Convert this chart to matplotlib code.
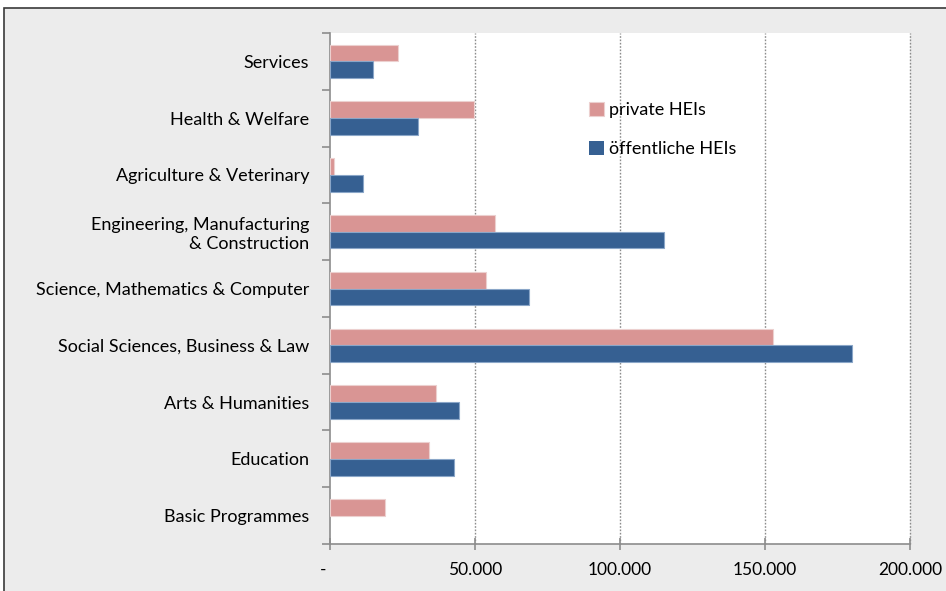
import matplotlib
matplotlib.use("Agg")
import matplotlib.pyplot as plt
from matplotlib.patches import Rectangle
from matplotlib.ticker import FixedLocator, FuncFormatter
import numpy as np

plt.rcParams['font.family'] = ['Lato', 'DejaVu Sans']

categories = [
    "Basic Programmes",
    "Education",
    "Arts & Humanities",
    "Social Sciences, Business & Law",
    "Science, Mathematics & Computer",
    "Engineering, Manufacturing\n& Construction",
    "Agriculture & Veterinary",
    "Health & Welfare",
    "Services",
]
private_hei = [19000, 34300, 36500, 152800, 53700, 57000, 1300, 49800, 23400]
public_hei = [0, 42900, 44600, 180100, 68500, 115200, 11500, 30200, 14900]
series_labels = ["private HEIs", "öffentliche HEIs"]
x_ticks = [0, 50000, 100000, 150000, 200000]

pink = "#d99594"
blue = "#366092"
panel_grey = "#ececec"
axis_grey = "#8c8c8c"

fig = plt.figure(figsize=(9.46, 5.91), dpi=100)
fig.patch.set_facecolor("white")
fig.patches.append(Rectangle((4 / 946, -0.05), 1.1, (591 - 8) / 591 + 0.05,
                             transform=fig.transFigure, facecolor=panel_grey,
                             edgecolor="#3a3a3a", linewidth=1.2, zorder=-5))

ax = fig.add_axes([330 / 946, (591 - 544) / 591, 580 / 946, (544 - 33) / 591])
ax.set_zorder(2)
ax.set_facecolor("white")

y = np.arange(len(categories))
h = 0.295


def edges(values, colour):
    return [colour if v > 0 else "none" for v in values]


ax.barh(y + h / 2, private_hei, height=h, color=pink,
        edgecolor=edges(private_hei, "#ecd0cf"),
        linewidth=0.8, label=series_labels[0], zorder=3)
ax.barh(y - h / 2, public_hei, height=h, color=blue,
        edgecolor=edges(public_hei, "#8aa6c8"),
        linewidth=0.8, label=series_labels[1], zorder=3)

ax.set_xlim(0, 200000)
ax.set_ylim(-0.5, len(categories) - 0.5)

ax.xaxis.set_major_locator(FixedLocator(x_ticks))
ax.xaxis.set_major_formatter(FuncFormatter(
    lambda v, p: "-   " if v == 0 else f"{int(v):,}".replace(",", ".")))
ax.tick_params(axis="x", direction="inout", length=8, width=1.2, color=axis_grey,
               labelsize=12.5, pad=9, labelcolor="black")

# dotted vertical gridlines, including the one on the right edge
for xv in x_ticks[1:]:
    ax.axvline(xv, linestyle=(0, (1.2, 1.2)), color=axis_grey, linewidth=1.0,
               zorder=1, clip_on=False)

ax.set_yticks(y)
ax.set_yticklabels(categories)
ax.tick_params(axis="y", which="major", length=0, labelsize=13, pad=15,
               labelcolor="black")
ax.set_yticks(np.arange(-0.5, len(categories), 1.0), minor=True)
ax.tick_params(axis="y", which="minor", direction="out", length=6, width=1.2,
               color=axis_grey)

for side in ("top", "right"):
    ax.spines[side].set_visible(False)
for side in ("left", "bottom"):
    ax.spines[side].set_color(axis_grey)
    ax.spines[side].set_linewidth(1.2)

leg = ax.legend(loc="upper left", bbox_to_anchor=(582 / 946, 1 - 95 / 591),
                bbox_transform=fig.transFigure, frameon=False, fontsize=13,
                handlelength=0.8, handleheight=0.8, handletextpad=0.3,
                labelspacing=1.25, borderaxespad=0)

fig.savefig("out.png", dpi=100, facecolor=fig.get_facecolor())
